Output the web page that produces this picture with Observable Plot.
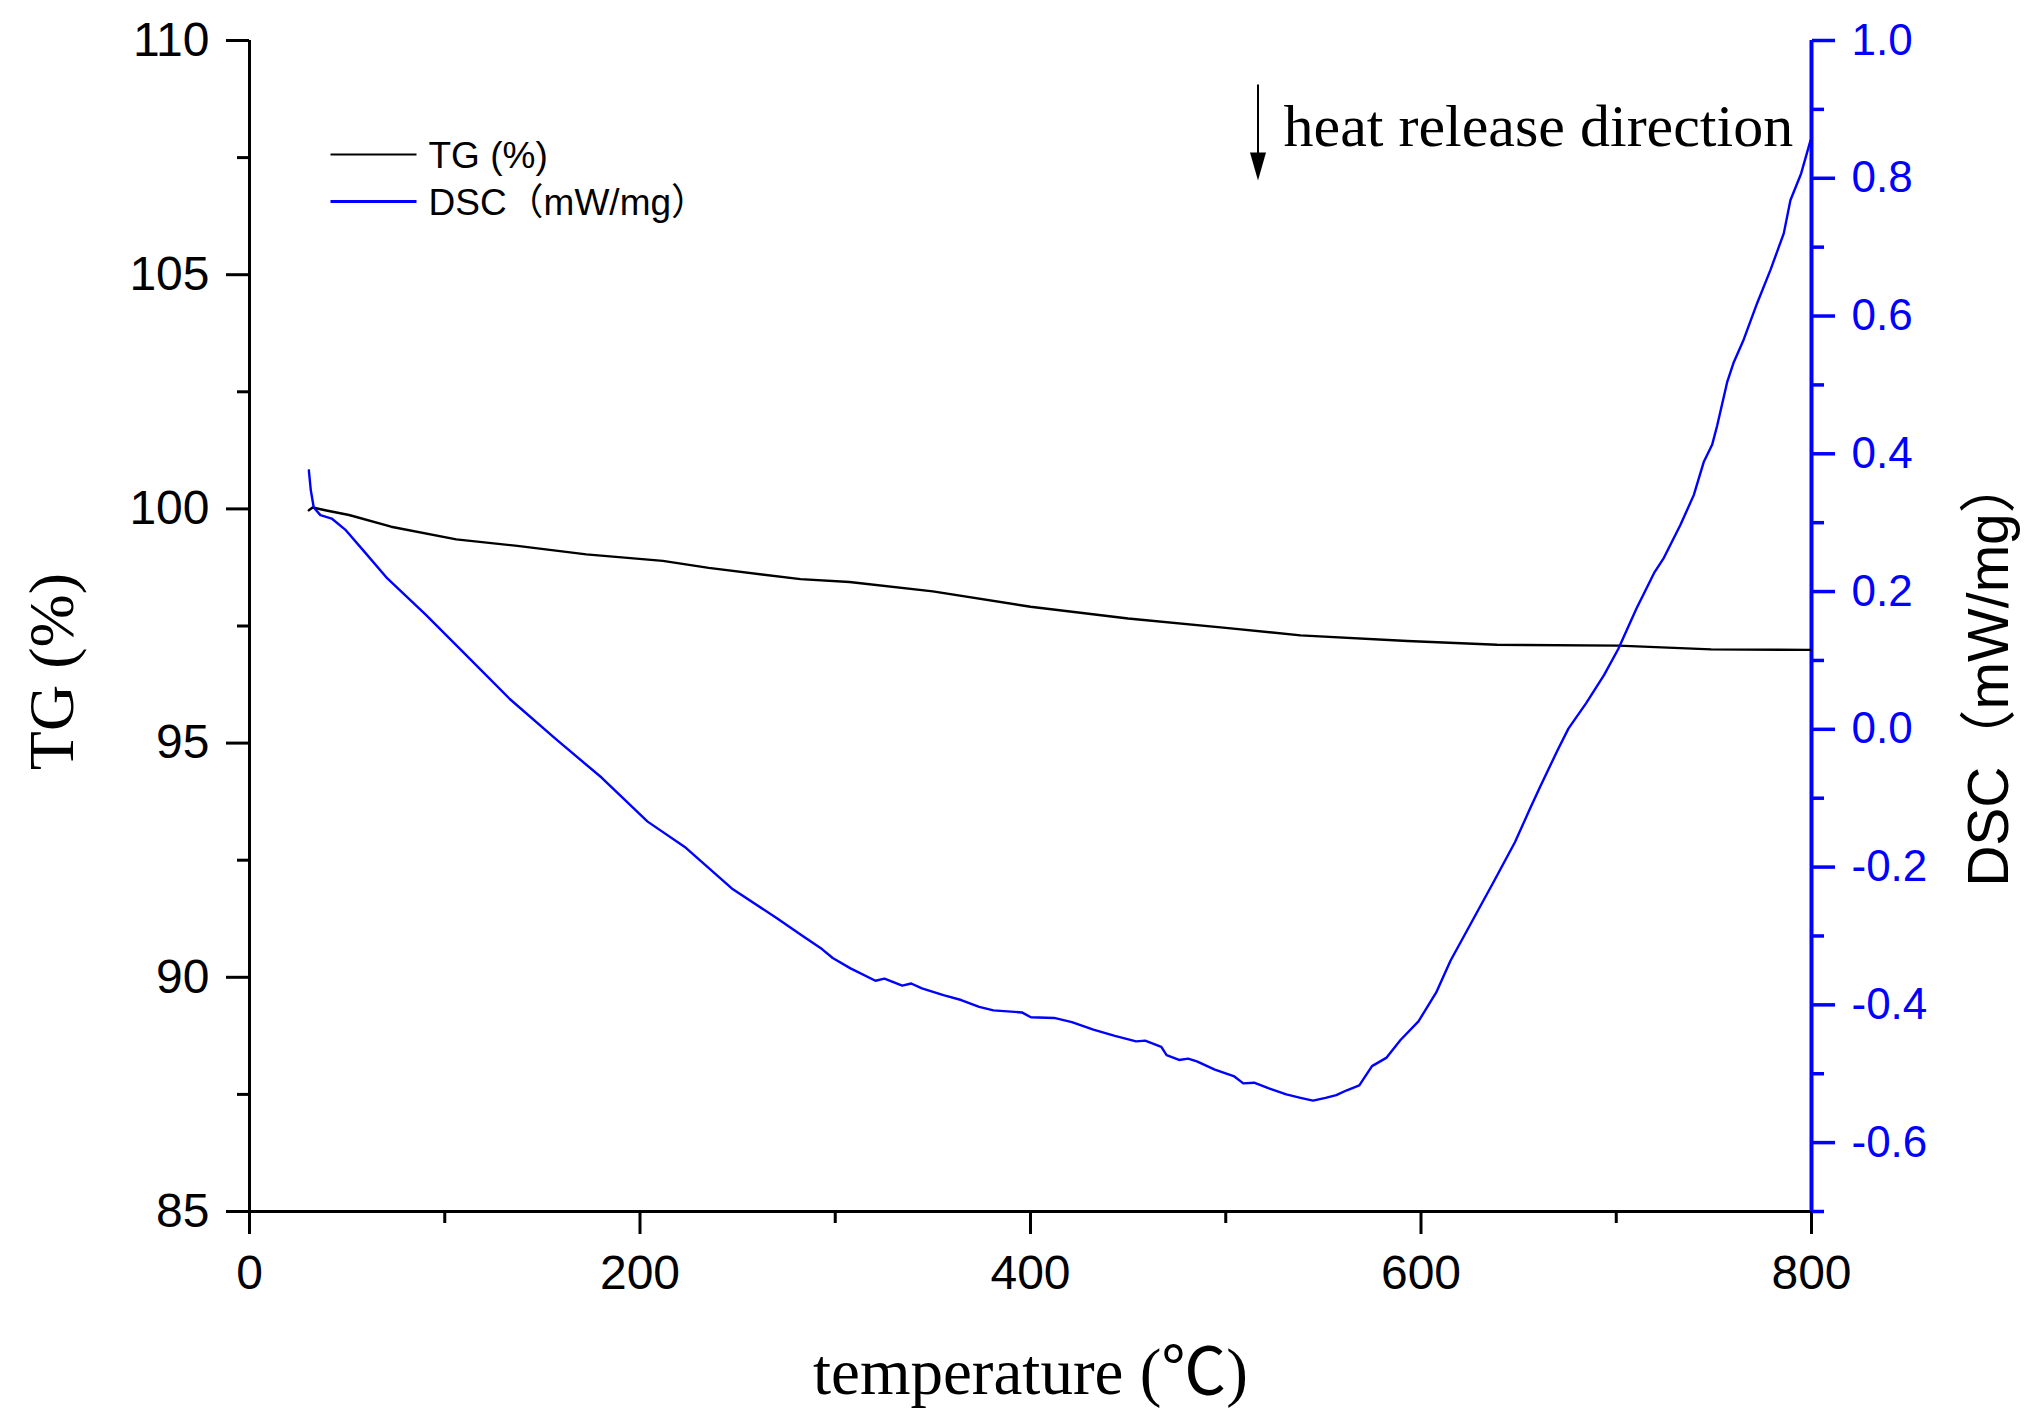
<!DOCTYPE html>
<html>
<head>
<meta charset="utf-8">
<script src="https://cdn.jsdelivr.net/npm/d3@7"></script>
<script src="https://cdn.jsdelivr.net/npm/@observablehq/plot@0.6"></script>
<style>
  html, body { margin: 0; padding: 0; background: #fff; }
  #chart svg { display: block; }
</style>
</head>
<body>
<div id="chart"></div>
<script>
// ---------------- data ----------------
const tgTemp  = [30.4, 32.3, 40, 51.0, 72.5, 105.9, 137.2, 172.5, 211.7, 235.2, 282.2, 307.3, 350, 400, 450, 500, 538.3, 593.1, 638.9, 701.1, 748.6, 799.3];
const tgValue = [99.97, 100.03, 99.96, 99.87, 99.62, 99.35, 99.21, 99.03, 98.89, 98.74, 98.50, 98.44, 98.24, 97.91, 97.66, 97.46, 97.30, 97.18, 97.10, 97.08, 97.00, 96.99];

const dscTemp = [30.4, 31.4, 32.9, 36.3, 42.1, 49.0, 58.8, 70.6, 90.1, 109.8, 133.3, 156.8, 180.3, 203.9, 223.5, 247.0, 270.5, 282.2, 293.2, 298.7, 307.8, 320.6, 325.2, 334.3, 338.9, 344.4, 355.4, 364.5, 373.7, 381.0, 395.6, 400.2, 412.1, 421.2, 432.2, 443.2, 454.1, 458.7, 467.0, 469.7, 476.1, 480.7, 485.2, 494.4, 504.4, 509.0, 514.5, 521.8, 531.0, 538.3, 544.7, 551.1, 556.6, 562.0, 568.4, 574.9, 582.2, 589.5, 598.7, 607.8, 615.1, 626.1, 637.1, 648.1, 655.4, 660.9, 670.0, 675.5, 684.6, 693.8, 701.1, 710.3, 719.4, 724.4, 732.9, 739.7, 744.8, 749.1, 751.7, 756.8, 760.2, 765.3, 772.2, 779.0, 785.8, 789.2, 794.7, 799.5];
const dscValue = [0.376, 0.347, 0.322, 0.311, 0.306, 0.290, 0.258, 0.219, 0.167, 0.111, 0.044, -0.014, -0.070, -0.134, -0.172, -0.231, -0.275, -0.298, -0.319, -0.332, -0.347, -0.365, -0.362, -0.372, -0.369, -0.376, -0.386, -0.393, -0.403, -0.408, -0.411, -0.418, -0.419, -0.425, -0.436, -0.445, -0.453, -0.452, -0.461, -0.473, -0.480, -0.478, -0.482, -0.494, -0.504, -0.514, -0.513, -0.521, -0.530, -0.535, -0.539, -0.535, -0.531, -0.524, -0.517, -0.489, -0.477, -0.451, -0.424, -0.382, -0.336, -0.279, -0.222, -0.164, -0.118, -0.084, -0.030, 0.001, 0.038, 0.079, 0.117, 0.175, 0.227, 0.249, 0.297, 0.340, 0.388, 0.413, 0.441, 0.504, 0.533, 0.566, 0.619, 0.667, 0.720, 0.768, 0.807, 0.855];

const xTicks      = [0, 200, 400, 600, 800];
const xMinorTicks = [100, 300, 500, 700];
const tgTicks      = [85, 90, 95, 100, 105, 110];
const tgMinorTicks = [87.5, 92.5, 97.5, 102.5, 107.5];
const dscTicks      = [-0.6, -0.4, -0.2, 0.0, 0.2, 0.4, 0.6, 0.8, 1.0];
const dscMinorTicks = [-0.7, -0.5, -0.3, -0.1, 0.1, 0.3, 0.5, 0.7, 0.9];

const tempDomain = [0, 800];
const tgDomain   = [85, 110];
const dscDomain  = [-0.7, 1.0];

const seriesLabels = ["TG (%)", "DSC\uFF08mW/mg\uFF09"];
const xTitle   = "temperature (\u2103)";
const tgTitle  = "TG (%)";
const dscTitle = "DSC\uFF08mW/mg\uFF09";
const noteText = "heat release direction";

// ---------------- layout ----------------
const W = 2036, H = 1424;
const M = {left: 249, right: 225, top: 40, bottom: 213};
const BLUE = "#0000ff";
const SANS = "'Liberation Sans', Arial, 'Noto Sans CJK SC', sans-serif";
const SERIF = "'Liberation Serif', 'Times New Roman', 'Noto Sans CJK SC', serif";

const toTG = v => tgDomain[0] + (v - dscDomain[0]) / (dscDomain[1] - dscDomain[0]) * (tgDomain[1] - tgDomain[0]);
const fromTG = t => dscDomain[0] + (t - tgDomain[0]) / (tgDomain[1] - tgDomain[0]) * (dscDomain[1] - dscDomain[0]);
const fmt1 = v => { const r = Math.round(v * 10) / 10; return (r === 0 ? 0 : r).toFixed(1); };

const xS = Plot.scale({x: {domain: tempDomain, range: [M.left, W - M.right]}});
const yS = Plot.scale({y: {domain: tgDomain, range: [H - M.bottom, M.top]}});
const px = X => xS.invert(X);
const py = Y => yS.invert(Y);

const tgData = tgTemp.map((t, i) => ({t, v: tgValue[i]}));
const dscData = dscTemp.map((t, i) => ({t, v: toTG(dscValue[i])}));

const arrowHead = {
  draw(ctx) {
    ctx.moveTo(-8, -14);
    ctx.lineTo(8, -14);
    ctx.lineTo(0, 14);
    ctx.closePath();
  }
};

const chart = Plot.plot({
  width: W,
  height: H,
  marginLeft: M.left,
  marginRight: M.right,
  marginTop: M.top,
  marginBottom: M.bottom,
  style: {background: "#fff", fontFamily: SANS, overflow: "visible"},
  x: {domain: tempDomain, label: null},
  y: {domain: tgDomain, label: null},
  marks: [
    // axes ticks
    Plot.axisX({ticks: xTicks, anchor: "bottom", tickSize: 23, tickPadding: 20, fontSize: 48, strokeWidth: 3, label: null, color: "#000"}),
    Plot.axisX({ticks: xMinorTicks, anchor: "bottom", tickSize: 12, strokeWidth: 3, tickFormat: () => "", label: null, color: "#000"}),
    Plot.axisY({ticks: tgTicks, anchor: "left", tickSize: 23, tickPadding: 17, fontSize: 48, strokeWidth: 3, label: null, color: "#000"}),
    Plot.axisY({ticks: tgMinorTicks, anchor: "left", tickSize: 12, strokeWidth: 3, tickFormat: () => "", label: null, color: "#000"}),
    Plot.axisY({ticks: dscTicks.map(toTG), anchor: "right", tickSize: 23, tickPadding: 17, fontSize: 44, strokeWidth: 3.5, tickFormat: t => fmt1(fromTG(t)), label: null, color: BLUE}),
    Plot.axisY({ticks: dscMinorTicks.map(toTG), anchor: "right", tickSize: 12, strokeWidth: 3.5, tickFormat: () => "", label: null, color: BLUE}),
    // axis lines
    Plot.ruleX([tempDomain[0]], {stroke: "#000", strokeWidth: 3}),
    Plot.ruleY([tgDomain[0]], {stroke: "#000", strokeWidth: 3}),
    Plot.ruleX([tempDomain[1]], {stroke: BLUE, strokeWidth: 4}),
    // data
    Plot.line(tgData, {x: "t", y: "v", stroke: "#000", strokeWidth: 2.4, strokeLinejoin: "round"}),
    Plot.line(dscData, {x: "t", y: "v", stroke: BLUE, strokeWidth: 2.4, strokeLinejoin: "round"}),
    // axis titles
    Plot.text([tgTitle], {x: px(72), y: py(671), rotate: -90, textAnchor: "middle", lineAnchor: "bottom", fontSize: 64, fontFamily: SERIF, fill: "#000"}),
    Plot.text([dscTitle], {x: px(2007), y: py(671), rotate: -90, textAnchor: "middle", lineAnchor: "bottom", fontSize: 57, fontFamily: SANS, fill: "#000"}),
    Plot.text([xTitle], {x: px(1030), y: py(1393), textAnchor: "middle", lineAnchor: "bottom", fontSize: 65, fontFamily: SERIF, fill: "#000"}),
    // legend
    Plot.link([seriesLabels[0]], {x1: px(330), x2: px(416), y1: py(154), y2: py(154), stroke: "#000", strokeWidth: 2}),
    Plot.link([seriesLabels[1]], {x1: px(330), x2: px(416), y1: py(201), y2: py(201), stroke: BLUE, strokeWidth: 3}),
    Plot.text([seriesLabels[0]], {x: px(428), y: py(167), textAnchor: "start", lineAnchor: "bottom", fontSize: 37, fontFamily: SANS, fill: "#000"}),
    Plot.text([seriesLabels[1]], {x: px(428), y: py(214), textAnchor: "start", lineAnchor: "bottom", fontSize: 37, fontFamily: SANS, fill: "#000"}),
    // annotation arrow
    Plot.link([noteText], {x1: px(1257.5), x2: px(1257.5), y1: py(84), y2: py(156), stroke: "#000", strokeWidth: 2}),
    Plot.dot([noteText], {x: px(1257.5), y: py(166), r: 10, symbol: arrowHead, fill: "#000", stroke: "none"}),
    Plot.text([noteText], {x: px(1283), y: py(145), textAnchor: "start", lineAnchor: "bottom", fontSize: 60, fontFamily: SERIF, fill: "#000"})
  ]
});

document.getElementById("chart").appendChild(chart);
</script>
</body>
</html>
